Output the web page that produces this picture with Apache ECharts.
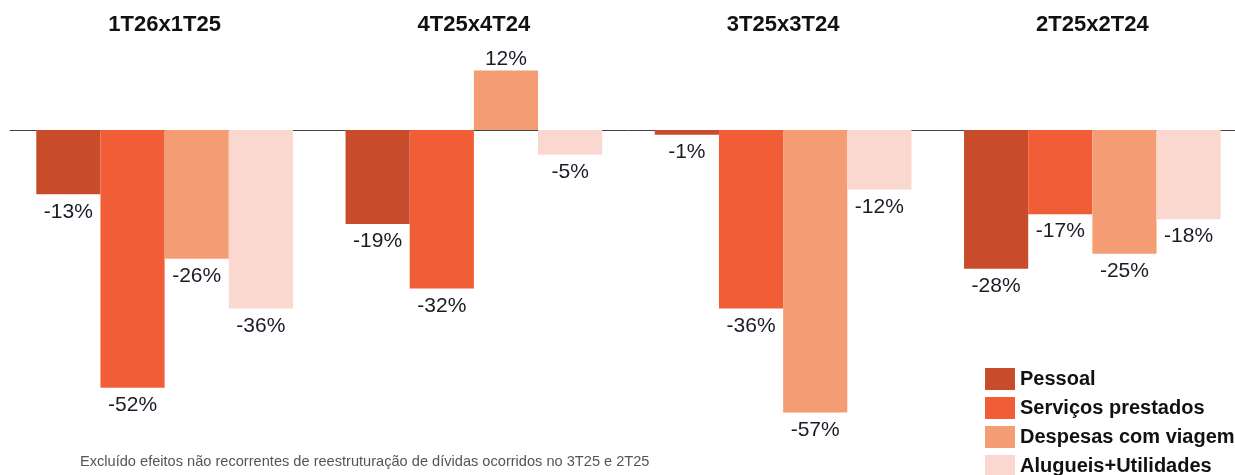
<!DOCTYPE html>
<html>
<head>
<meta charset="utf-8">
<script src="https://cdn.jsdelivr.net/npm/echarts@6/dist/echarts.min.js"></script>
<style>
html, body { margin: 0; padding: 0; background: #fff; overflow: hidden; }
#main { width: 1250px; height: 475px; }
</style>
</head>
<body>
<div id="main"></div>
<script>
var periodos = ['1T26x1T25', '4T25x4T24', '3T25x3T24', '2T25x2T24'];
var pessoal = [-13, -19, -1, -28];
var servicos = [-52, -32, -36, -17];
var viagem = [-26, 12, -57, -25];
var alugueis = [-36, -5, -12, -18];
var nomes = ['Pessoal', 'Serviços prestados', 'Despesas com viagem', 'Alugueis+Utilidades'];
var cores = ['#C84B2B', '#F05D36', '#F49D75', '#FBD8CF'];

var fonte = 'Liberation Sans, Arial, sans-serif';

// rótulo abaixo da barra se negativo, acima se positivo
function comRotulo(valores) {
    return valores.map(function (v) {
        return {
            value: v,
            label: v < 0 ? { position: 'bottom', distance: 7 } : { position: 'top', distance: 1 }
        };
    });
}

// o div é um pouco mais largo que a janela: o último grupo vai até a borda
var chart = echarts.init(document.getElementById('main'));

var serie = function (i, valores) {
    return {
        name: nomes[i],
        type: 'bar',
        xAxisIndex: 0,
        data: comRotulo(valores),
        barGap: 0,
        barCategoryGap: '17%',
        itemStyle: { color: cores[i] },
        label: {
            show: true,
            fontSize: 21,
            color: '#1b1b26',
            fontFamily: fonte,
            formatter: function (p) { return p.value + '%'; }
        }
    };
};

chart.setOption({
    animation: false,
    grid: { left: 10, top: 1, width: 1237, height: 471 },
    xAxis: [{
        type: 'category',
        data: periodos,
        axisLine: { onZero: true, lineStyle: { color: '#444', width: 1 } },
        axisTick: { show: false },
        axisLabel: { show: false }
    }, {
        type: 'category',
        data: periodos,
        position: 'top',
        offset: -35,
        axisLine: { show: false },
        axisTick: { show: false },
        axisLabel: {
            margin: 0,
            fontSize: 22,
            fontWeight: 'bold',
            color: '#111',
            fontFamily: fonte
        }
    }],
    yAxis: {
        type: 'value',
        min: -69,
        max: 26,
        show: false,
        splitLine: { show: false }
    },
    legend: {
        orient: 'vertical',
        left: 980,
        top: 363,
        height: 200,
        itemWidth: 30,
        itemHeight: 22,
        itemGap: 7,
        icon: 'rect',
        data: nomes,
        textStyle: {
            fontSize: 20,
            fontWeight: 'bold',
            color: '#111',
            fontFamily: fonte
        }
    },
    graphic: [{
        type: 'text',
        left: 80,
        top: 454,
        style: {
            text: 'Excluído efeitos não recorrentes de reestruturação de dívidas ocorridos no 3T25 e 2T25',
            fontSize: 14.6,
            fill: '#555',
            fontFamily: fonte
        }
    }],
    series: [
        serie(0, pessoal),
        serie(1, servicos),
        serie(2, viagem),
        serie(3, alugueis)
    ]
});
</script>
</body>
</html>
